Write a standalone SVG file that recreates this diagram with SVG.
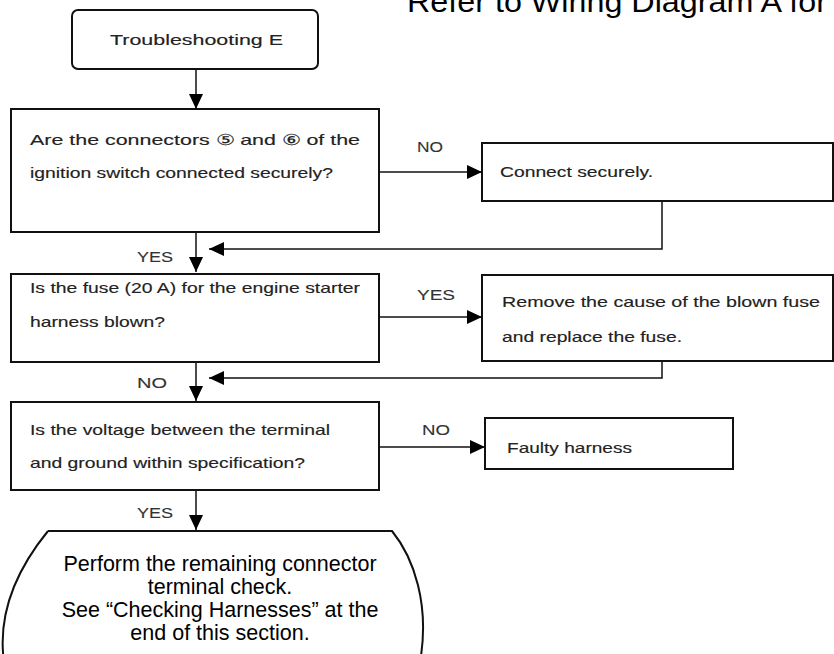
<svg xmlns="http://www.w3.org/2000/svg" width="834" height="654" viewBox="0 0 834 654">
<defs>
<marker id="ah" markerUnits="userSpaceOnUse" markerWidth="16" markerHeight="14" refX="15" refY="7" orient="auto">
<path d="M0,0 L15,7 L0,14 z" fill="#000"/>
</marker>
<style>
.box{fill:#fff;stroke:#111;stroke-width:2}
.ln{fill:none;stroke:#111;stroke-width:1.5}
.t{font-family:"Liberation Sans",Arial,sans-serif;font-size:15px;fill:#222;stroke:#222;stroke-width:0.15}
.lb{font-family:"Liberation Sans",Arial,sans-serif;font-size:14px;fill:#333;stroke:#333;stroke-width:0.1}
.big{font-family:"Liberation Sans",Arial,sans-serif;font-size:21.5px;fill:#000;text-anchor:middle}
</style>
</defs>
<rect width="834" height="654" fill="#fff"/>
<text x="407" y="12" font-family="Liberation Sans, Arial, sans-serif" font-size="30" fill="#000" textLength="420" lengthAdjust="spacingAndGlyphs">Refer to Wiring Diagram A for</text>

<g id="start">
<rect class="box" x="72" y="10" width="246" height="59" rx="6"/>
<text class="t" x="110" y="45" textLength="173" lengthAdjust="spacingAndGlyphs">Troubleshooting E</text>
</g>
<g id="q1">
<rect class="box" x="11" y="109" width="368" height="123"/>
<text class="t" x="30" y="145" textLength="330" lengthAdjust="spacingAndGlyphs">Are the connectors ⑤ and ⑥ of the</text>
<text class="t" x="30" y="178" textLength="303" lengthAdjust="spacingAndGlyphs">ignition switch connected securely?</text>
</g>
<g id="a1">
<rect class="box" x="482" y="143" width="351" height="58"/>
<text class="t" x="500" y="177" textLength="153" lengthAdjust="spacingAndGlyphs">Connect securely.</text>
</g>
<g id="q2">
<rect class="box" x="11" y="274" width="368" height="88"/>
<text class="t" x="30" y="293" textLength="330" lengthAdjust="spacingAndGlyphs">Is the fuse (20 A) for the engine starter</text>
<text class="t" x="30" y="327" textLength="135" lengthAdjust="spacingAndGlyphs">harness blown?</text>
</g>
<g id="a2">
<rect class="box" x="482" y="275" width="351" height="86"/>
<text class="t" x="502" y="307" textLength="318" lengthAdjust="spacingAndGlyphs">Remove the cause of the blown fuse</text>
<text class="t" x="502" y="342" textLength="180" lengthAdjust="spacingAndGlyphs">and replace the fuse.</text>
</g>
<g id="q3">
<rect class="box" x="11" y="402" width="368" height="88"/>
<text class="t" x="30" y="435" textLength="300" lengthAdjust="spacingAndGlyphs">Is the voltage between the terminal</text>
<text class="t" x="30" y="468" textLength="275" lengthAdjust="spacingAndGlyphs">and ground within specification?</text>
</g>
<g id="a3">
<rect class="box" x="485" y="418" width="248" height="51"/>
<text class="t" x="507" y="453" textLength="125" lengthAdjust="spacingAndGlyphs">Faulty harness</text>
</g>
<g id="end">
<path class="box" d="M48,531 H392 C414,558 430,605 420,662 M48,531 C26,558 -4,605 4,662"/>
<text class="big" x="220" y="571">Perform the remaining connector</text>
<text class="big" x="220" y="594">terminal check.</text>
<text class="big" x="220" y="617">See “Checking Harnesses” at the</text>
<text class="big" x="220" y="640">end of this section.</text>
</g>

<g id="connectors">
<line class="ln" x1="196" y1="69" x2="196" y2="109" marker-end="url(#ah)"/>
<line class="ln" x1="379" y1="172" x2="482" y2="172" marker-end="url(#ah)"/>
<polyline class="ln" points="662,201 662,249 209,249" marker-end="url(#ah)"/>
<line class="ln" x1="196" y1="232" x2="196" y2="272" marker-end="url(#ah)"/>
<line class="ln" x1="379" y1="317" x2="482" y2="317" marker-end="url(#ah)"/>
<polyline class="ln" points="662,361 662,378 209,378" marker-end="url(#ah)"/>
<line class="ln" x1="196" y1="362" x2="196" y2="401" marker-end="url(#ah)"/>
<line class="ln" x1="379" y1="447" x2="485" y2="447" marker-end="url(#ah)"/>
<line class="ln" x1="196" y1="490" x2="196" y2="530" marker-end="url(#ah)"/>
<text class="lb" x="417" y="152" textLength="26" lengthAdjust="spacingAndGlyphs">NO</text>
<text class="lb" x="137" y="262" textLength="36" lengthAdjust="spacingAndGlyphs">YES</text>
<text class="lb" x="417" y="300" textLength="38" lengthAdjust="spacingAndGlyphs">YES</text>
<text class="lb" x="137" y="388" textLength="30" lengthAdjust="spacingAndGlyphs">NO</text>
<text class="lb" x="422" y="435" textLength="28" lengthAdjust="spacingAndGlyphs">NO</text>
<text class="lb" x="137" y="518" textLength="36" lengthAdjust="spacingAndGlyphs">YES</text>
</g>
</svg>
